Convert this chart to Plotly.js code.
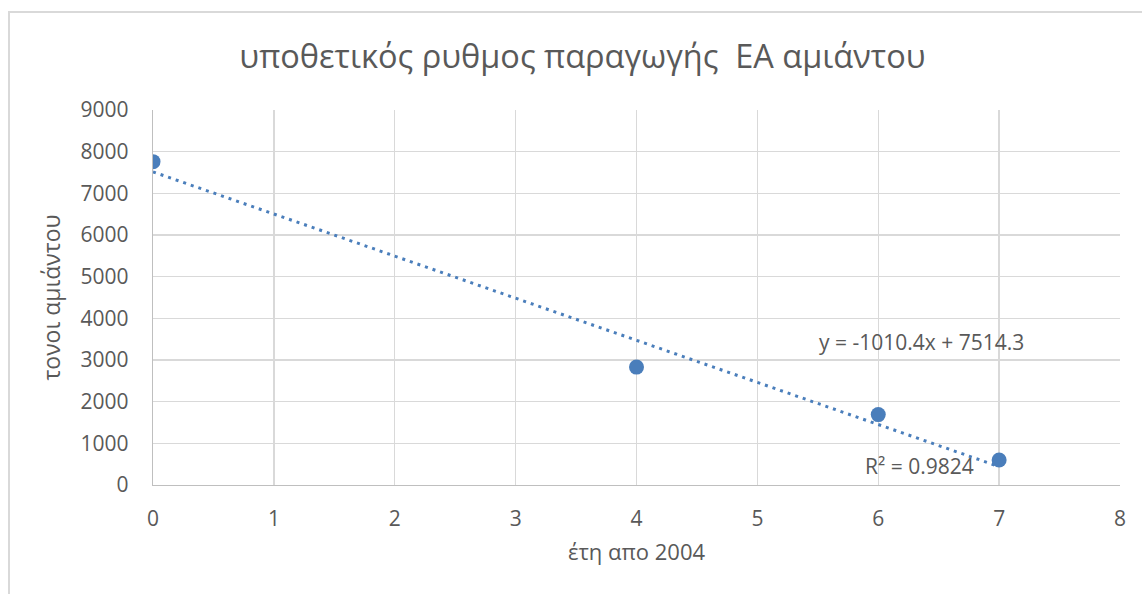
<!DOCTYPE html>
<html>
<head>
<meta charset="utf-8">
<script src="https://cdn.plot.ly/plotly-3.0.1.min.js"></script>
<style>
  html, body { margin: 0; padding: 0; background: #ffffff; }
  #frame { position: absolute; left: 8px; top: 11px; width: 1200px; height: 700px;
           border-left: 2px solid #d9d9d9; border-top: 2px solid #d9d9d9; }
  #chart { position: absolute; left: 0; top: 0; width: 1142px; height: 594px; }
</style>
</head>
<body>
<div id="frame"></div>
<div id="chart"></div>
<script>
// Years since 2004 and tonnes of asbestos
const years = [0, 4, 6, 7];
const tonnes = [7760, 2830, 1690, 600];

// Linear trendline coefficients as printed on the chart
const slope = -1010.4;
const intercept = 7514.3;
const rSquared = 0.9824;

const trendX = [years[0], years[years.length - 1]];
const trendY = trendX.map(x => slope * x + intercept);

const textColor = '#595959';
const blue = '#4a7ebb';
const font = 'Open Sans, sans-serif';

const points = {
  x: years, y: tonnes, type: 'scatter', mode: 'markers',
  marker: { color: blue, size: 15 },
  hoverinfo: 'x+y', showlegend: false
};

const trend = {
  x: trendX, y: trendY, type: 'scatter', mode: 'lines',
  line: { color: blue, width: 3, dash: '3px,5px' },
  hoverinfo: 'skip', showlegend: false
};

const layout = {
  width: 1142, height: 594,
  paper_bgcolor: 'rgba(0,0,0,0)', plot_bgcolor: '#ffffff',
  margin: { l: 153, r: 22, t: 110, b: 109 },
  font: { family: font, color: textColor, size: 21 },
  title: {
    text: 'υποθετικός ρυθμος παραγωγής  EA αμιάντου',
    font: { family: font, size: 32.5, color: textColor },
    x: 0.51, xanchor: 'center', y: 0.905, yanchor: 'middle'
  },
  xaxis: {
    range: [0, 8], dtick: 1, tick0: 0,
    showgrid: true, gridcolor: '#d9d9d9', gridwidth: 1.3,
    showline: true, linecolor: '#bfbfbf', linewidth: 1.3,
    zeroline: false, ticks: '', ticklabelstandoff: 14,
    tickfont: { size: 21, color: textColor },
    title: { text: 'έτη απο 2004', font: { size: 22, color: textColor }, standoff: 14 },
    fixedrange: true
  },
  yaxis: {
    range: [0, 9000], dtick: 1000, tick0: 0,
    showgrid: true, gridcolor: '#d9d9d9', gridwidth: 1.3,
    showline: true, linecolor: '#bfbfbf', linewidth: 1.3,
    zeroline: false, ticks: '', ticklabelstandoff: 19,
    tickfont: { size: 21, color: textColor },
    title: { text: 'τονοι αμιάντου', font: { size: 23, color: textColor }, standoff: 13 },
    fixedrange: true
  },
  annotations: [
    {
      x: 6.36, y: 3440, xref: 'x', yref: 'y', showarrow: false,
      text: 'y = ' + slope + 'x + ' + intercept,
      font: { size: 21, color: textColor }
    },
    {
      x: 6.34, y: 450, xref: 'x', yref: 'y', showarrow: false,
      text: 'R² = ' + rSquared,
      font: { size: 21, color: textColor }
    }
  ]
};

Plotly.newPlot('chart', [trend, points], layout, { displayModeBar: false, staticPlot: true });
</script>
</body>
</html>
